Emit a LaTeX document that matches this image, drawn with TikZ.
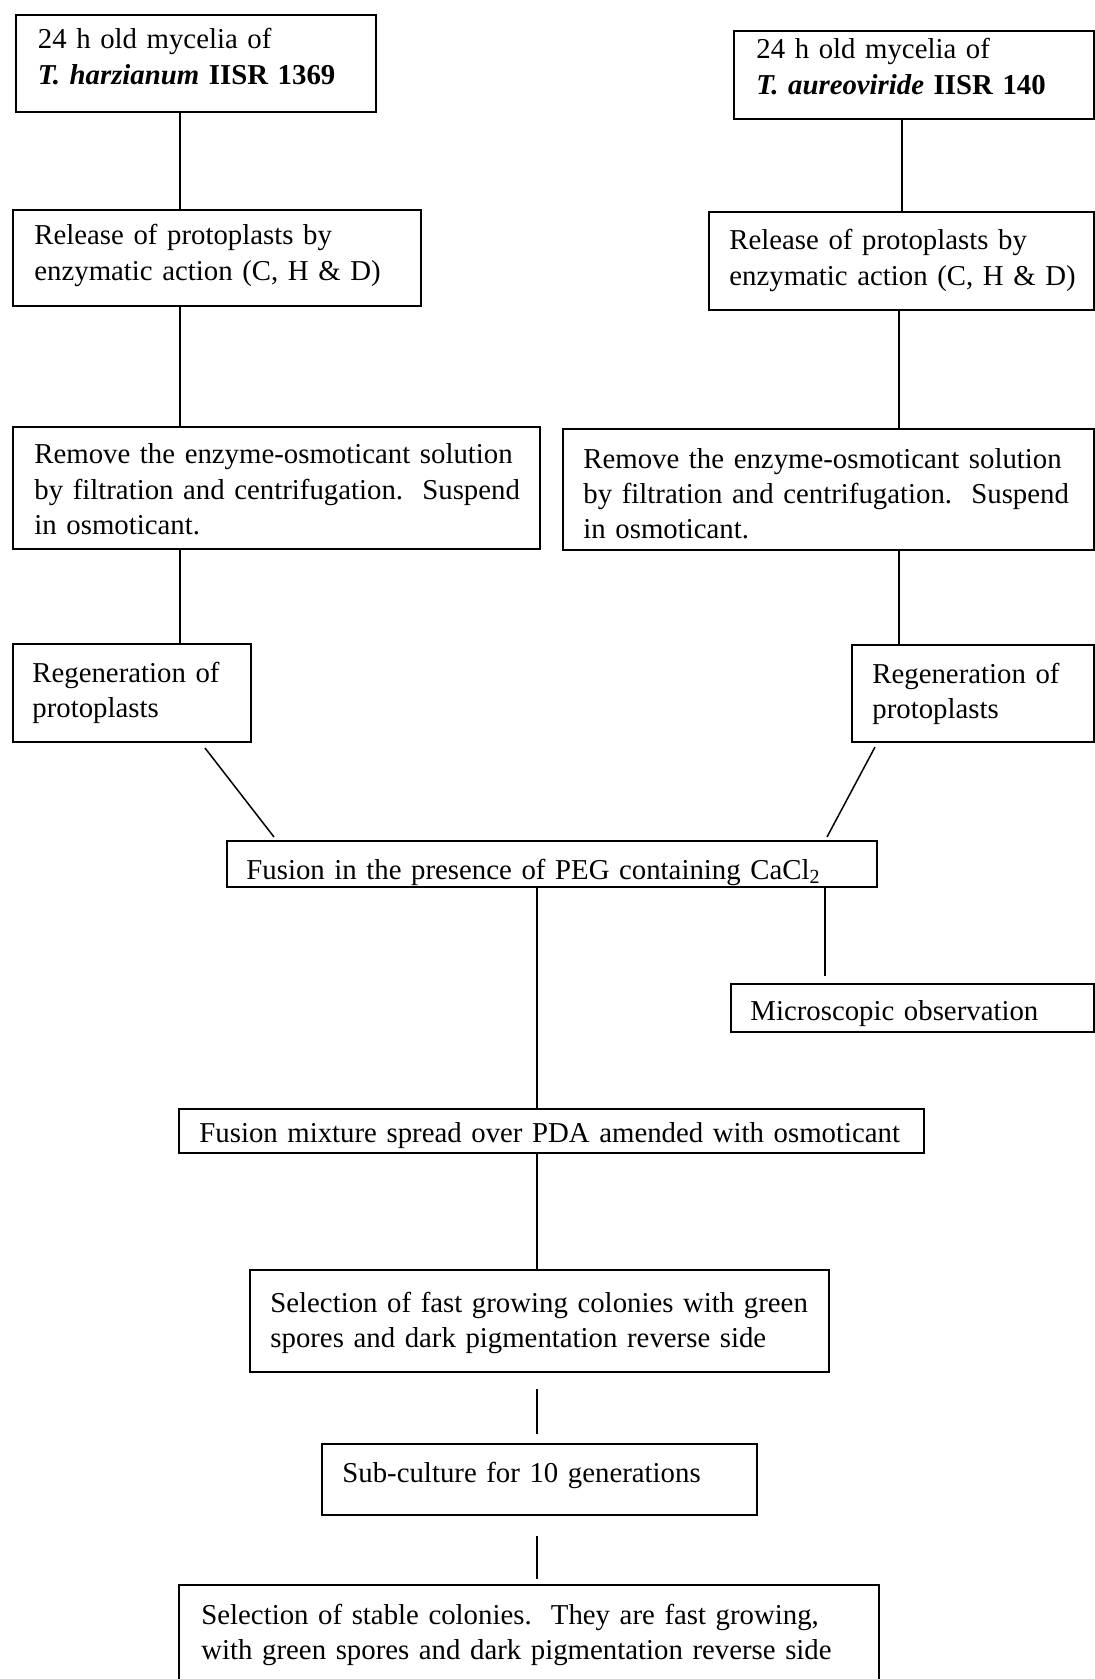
\documentclass[tikz,border=0pt]{standalone}
\usepackage{fontspec}
\setmainfont{Liberation Serif}[WordSpace=0.9]
\usetikzlibrary{calc}
\begin{document}
\begin{tikzpicture}[x=0.5pt,y=-0.5pt,
  boxn/.style={draw, line width=1pt, inner sep=0pt, anchor=north west},
  txt/.style={anchor=base west, inner sep=0pt, text width=380pt, align=left,
    font=\fontsize{14.4pt}{17.65pt}\selectfont},
  link/.style={line width=0.75pt}]
\useasboundingbox (0,0) rectangle (1095,1679);
\fill[white] (0,0) rectangle (1095,1679);
% boxes
\node[boxn, minimum width=180pt, minimum height=48.5pt] (a1) at (15,14) {};
\node[boxn, minimum width=180pt, minimum height=44pt] (b1) at (733,30) {};
\node[boxn, minimum width=204pt, minimum height=48pt] (a2) at (12,209) {};
\node[boxn, minimum width=192.5pt, minimum height=49pt] (b2) at (708,211) {};
\node[boxn, minimum width=263.5pt, minimum height=61pt] (a3) at (12,426) {};
\node[boxn, minimum width=265.5pt, minimum height=60.5pt] (b3) at (562,428) {};
\node[boxn, minimum width=119pt, minimum height=49pt] (a4) at (12,643) {};
\node[boxn, minimum width=121pt, minimum height=48.5pt] (b4) at (851,644) {};
\node[boxn, minimum width=325pt, minimum height=23pt] (fu) at (226,840) {};
\node[boxn, minimum width=181.5pt, minimum height=24pt] (mi) at (730,983) {};
\node[boxn, minimum width=372.5pt, minimum height=22pt] (fm) at (178,1108) {};
\node[boxn, minimum width=289.5pt, minimum height=51pt] (se) at (249,1269) {};
\node[boxn, minimum width=217.5pt, minimum height=35.5pt] (sc) at (321,1443) {};
\node[boxn, minimum width=350pt, minimum height=53pt] (fi) at (178,1584) {};
% texts
\node[txt] (ta1) at (37.5,49) {24 h old mycelia of\\ \textbf{\textit{T. harzianum}} \textbf{IISR 1369}};
\node[txt] (tb1) at (756,59) {24 h old mycelia of\\ \textbf{\textit{T. aureoviride}} \textbf{IISR 140}};
\node[txt] (ta2) at (34,245) {Release of protoplasts by\\ enzymatic action (C, H \& D)};
\node[txt] (tb2) at (729,250) {Release of protoplasts by\\ enzymatic action (C, H \& D)};
\node[txt] (ta3) at (34,464) {Remove the enzyme-osmoticant solution\\ by filtration and centrifugation.\ \ Suspend\\ in osmoticant.};
\node[txt] (tb3) at (583,468) {Remove the enzyme-osmoticant solution\\ by filtration and centrifugation.\ \ Suspend\\ in osmoticant.};
\node[txt] (ta4) at (32,682) {Regeneration of\\ protoplasts};
\node[txt] (tb4) at (872,683) {Regeneration of\\ protoplasts};
\node[txt] (tfu) at (246,879) {Fusion in the presence of PEG containing CaCl\textsubscript{2}};
\node[txt] (tmi) at (750,1020) {Microscopic observation};
\node[txt] (tfm) at (199,1142) {Fusion mixture spread over PDA amended with osmoticant};
\node[txt] (tse) at (270,1312) {Selection of fast growing colonies with green\\ spores and dark pigmentation reverse side};
\node[txt] (tsc) at (342,1482) {Sub-culture for 10 generations};
\node[txt] (tfi) at (201,1624) {Selection of stable colonies.\ \ They are fast growing,\\ with green spores and dark pigmentation reverse side};
% columns
\coordinate (cL) at (180,0);
\coordinate (cR1) at (902,0);
\coordinate (cR2) at (899,0);
\coordinate (cC) at (537,0);
\coordinate (cM) at (825,0);
% connectors
\draw[link] (a1.south -| cL) -- (a2.north -| cL);
\draw[link] (a2.south -| cL) -- (a3.north -| cL);
\draw[link] (a3.south -| cL) -- (a4.north -| cL);
\draw[link] (b1.south -| cR1) -- (b2.north -| cR1);
\draw[link] (b2.south -| cR2) -- (b3.north -| cR2);
\draw[link] (b3.south -| cR2) -- (b4.north -| cR2);
\draw[link] ($(a4.south west)+(193,5)$) -- ($(fu.north west)+(48,-3)$);
\draw[link] ($(b4.south west)+(24,4)$) -- ($(fu.north west)+(601,-3)$);
\draw[link] (fu.south -| cC) -- (fm.north -| cC);
\draw[link] (fu.south -| cM) -- ($(mi.north -| cM)+(0,-7)$);
\draw[link] (fm.south -| cC) -- (se.north -| cC);
\draw[link] ($(se.south -| cC)+(0,16)$) -- ($(sc.north -| cC)+(0,-9)$);
\draw[link] ($(sc.south -| cC)+(0,20)$) -- ($(fi.north -| cC)+(0,-5)$);
\end{tikzpicture}
\end{document}
